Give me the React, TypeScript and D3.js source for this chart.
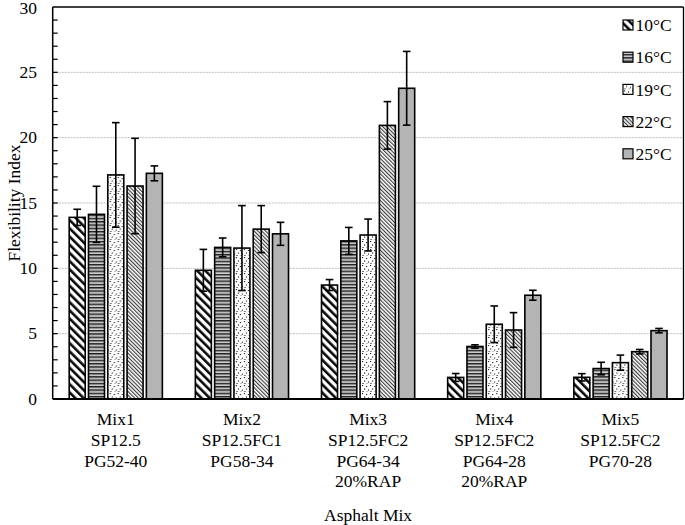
import * as d3 from "d3";
import React from "react";

const mixes = ["Mix1", "Mix2", "Mix3", "Mix4", "Mix5"];
const mixLabels = [
  ["Mix1", "SP12.5", "PG52-40"],
  ["Mix2", "SP12.5FC1", "PG58-34"],
  ["Mix3", "SP12.5FC2", "PG64-34", "20%RAP"],
  ["Mix4", "SP12.5FC2", "PG64-28", "20%RAP"],
  ["Mix5", "SP12.5FC2", "PG70-28"],
];
const temps = ["10°C", "16°C", "19°C", "22°C", "25°C"];

// mean flexibility index per temperature, one value per mix
const fi10 = [13.9, 9.85, 8.72, 1.65, 1.66];
const fi16 = [14.13, 11.6, 12.1, 4.02, 2.33];
const fi19 = [17.15, 11.55, 12.55, 5.72, 2.78];
const fi22 = [16.3, 13.0, 20.94, 5.28, 3.62];
const fi25 = [17.27, 12.64, 23.78, 7.94, 5.23];

// error bar half-lengths
const err10 = [0.62, 1.6, 0.42, 0.3, 0.28];
const err16 = [2.15, 0.72, 1.03, 0.13, 0.48];
const err19 = [4.0, 3.25, 1.22, 1.4, 0.58];
const err22 = [3.65, 1.8, 1.82, 1.33, 0.17];
const err25 = [0.57, 0.88, 2.82, 0.38, 0.17];

const yTicks = [0, 5, 10, 15, 20, 25, 30];

const means = [fi10, fi16, fi19, fi22, fi25];
const errs = [err10, err16, err19, err22, err25];
const fills = ["url(#p10)", "url(#p16)", "url(#p19)", "url(#p22)", "#b4b4b4"];

const FONT = "'Liberation Serif', 'Times New Roman', serif";

export default function App() {
  const ref = React.useRef<SVGSVGElement | null>(null);

  const width = 685;
  const height = 525;
  const plot = { left: 52.7, right: 683.5, top: 7, bottom: 399 };

  const draw = (el: SVGSVGElement) => {
    const svg = d3.select(el).attr("width", width).attr("height", height);
    svg.selectAll("*").remove();

    const defs = svg.append("defs");
    // wide diagonal stripes
    const p10 = defs
      .append("pattern")
      .attr("id", "p10")
      .attr("patternUnits", "userSpaceOnUse")
      .attr("width", 5.8)
      .attr("height", 5.8)
      .attr("patternTransform", "rotate(-45)");
    p10.append("rect").attr("width", 5.8).attr("height", 5.8).attr("fill", "#fff");
    p10.append("line").attr("x1", 1.3).attr("x2", 1.3).attr("y1", 0).attr("y2", 5.8)
      .attr("stroke", "#000").attr("stroke-width", 2.5);
    // horizontal lines
    const p16 = defs
      .append("pattern")
      .attr("id", "p16")
      .attr("patternUnits", "userSpaceOnUse")
      .attr("width", 6)
      .attr("height", 3.3);
    p16.append("rect").attr("width", 6).attr("height", 3.3).attr("fill", "#e6e6e6");
    p16.append("line").attr("x1", 0).attr("x2", 6).attr("y1", 0.7).attr("y2", 0.7)
      .attr("stroke", "#111").attr("stroke-width", 1.3);
    p16.append("line").attr("x1", 0).attr("x2", 6).attr("y1", 2.3).attr("y2", 2.3)
      .attr("stroke", "#888").attr("stroke-width", 0.7);
    // dots
    const p19 = defs
      .append("pattern")
      .attr("id", "p19")
      .attr("patternUnits", "userSpaceOnUse")
      .attr("width", 8)
      .attr("height", 8);
    p19.append("rect").attr("width", 8).attr("height", 8).attr("fill", "#fff");
    [[1, 1], [5, 2], [3, 4.5], [7, 5.5], [1.5, 7], [5.5, 7.5]].forEach(([x, y]) =>
      p19.append("rect").attr("x", x).attr("y", y).attr("width", 1.1).attr("height", 1.1).attr("fill", "#111")
    );
    // thin diagonal lines
    const p22 = defs
      .append("pattern")
      .attr("id", "p22")
      .attr("patternUnits", "userSpaceOnUse")
      .attr("width", 2.7)
      .attr("height", 2.7)
      .attr("patternTransform", "rotate(-45)");
    p22.append("rect").attr("width", 2.7).attr("height", 2.7).attr("fill", "#fff");
    p22.append("line").attr("x1", 0.6).attr("x2", 0.6).attr("y1", 0).attr("y2", 2.7)
      .attr("stroke", "#222").attr("stroke-width", 1);

    const x0 = d3.scaleBand<string>().domain(mixes).range([plot.left, plot.right]).padding(0);
    const x1 = d3
      .scaleBand<string>()
      .domain(temps)
      .range([0, x0.bandwidth()])
      .paddingInner(0.17)
      .paddingOuter(0.855);
    const y = d3.scaleLinear().domain([0, 30]).range([plot.bottom, plot.top]);

    // gridlines
    svg
      .append("g")
      .selectAll("line")
      .data(yTicks.filter((t) => t > 0 && t < 30))
      .join("line")
      .attr("x1", plot.left)
      .attr("x2", plot.right)
      .attr("y1", (d) => y(d))
      .attr("y2", (d) => y(d))
      .attr("stroke", "#bdbdbd")
      .attr("stroke-width", 1)
      .attr("stroke-dasharray", "2 1");

    // minor ticks inside
    svg
      .append("g")
      .selectAll("line")
      .data(d3.range(1, 30))
      .join("line")
      .attr("x1", plot.left)
      .attr("x2", plot.left + 5)
      .attr("y1", (d) => y(d))
      .attr("y2", (d) => y(d))
      .attr("stroke", "#000")
      .attr("stroke-width", 1.2);

    // bars
    const groups = svg
      .append("g")
      .selectAll("g")
      .data(mixes)
      .join("g")
      .attr("transform", (d) => `translate(${x0(d)},0)`);

    groups.each(function (_m, mi) {
      const g = d3.select(this);
      temps.forEach((t, ti) => {
        const v = means[ti][mi];
        const e = errs[ti][mi];
        const bx = x1(t) || 0;
        const bw = x1.bandwidth();
        g.append("rect")
          .attr("x", bx)
          .attr("y", y(v))
          .attr("width", bw)
          .attr("height", y(0) - y(v))
          .attr("fill", fills[ti])
          .attr("stroke", "#000")
          .attr("stroke-width", 1.6);
        const cx = bx + bw / 2;
        g.append("line")
          .attr("x1", cx).attr("x2", cx)
          .attr("y1", y(v - e)).attr("y2", y(v + e))
          .attr("stroke", "#000").attr("stroke-width", 1.6);
        [v - e, v + e].forEach((ev) =>
          g.append("line")
            .attr("x1", cx - 3.8).attr("x2", cx + 3.8)
            .attr("y1", y(ev)).attr("y2", y(ev))
            .attr("stroke", "#000").attr("stroke-width", 1.6)
        );
      });
    });

    // frame
    svg.append("line")
      .attr("x1", plot.left).attr("x2", plot.right)
      .attr("y1", plot.top).attr("y2", plot.top)
      .attr("stroke", "#000").attr("stroke-width", 1.3);
    svg.append("line")
      .attr("x1", plot.right).attr("x2", plot.right)
      .attr("y1", plot.top).attr("y2", plot.bottom)
      .attr("stroke", "#000").attr("stroke-width", 1.3);
    svg.append("line")
      .attr("x1", plot.left).attr("x2", plot.left)
      .attr("y1", plot.top).attr("y2", plot.bottom)
      .attr("stroke", "#000").attr("stroke-width", 1.5);
    svg.append("line")
      .attr("x1", plot.left).attr("x2", plot.right)
      .attr("y1", plot.bottom).attr("y2", plot.bottom)
      .attr("stroke", "#000").attr("stroke-width", 2);

    // y tick labels
    svg
      .append("g")
      .selectAll("text")
      .data(yTicks)
      .join("text")
      .text((d) => d)
      .attr("x", 37)
      .attr("y", (d) => Math.max(y(d), 8))
      .attr("dy", "0.33em")
      .attr("text-anchor", "end")
      .attr("font-family", FONT)
      .attr("font-size", 17.5)
      .attr("fill", "#000");

    // category labels
    const cat = svg
      .append("g")
      .selectAll("text")
      .data(mixes)
      .join("text")
      .attr("x", (d) => (x0(d) || 0) + x0.bandwidth() / 2)
      .attr("y", 425)
      .attr("text-anchor", "middle")
      .attr("font-family", FONT)
      .attr("font-size", 17.5)
      .attr("fill", "#000");
    cat.each(function (_d, i) {
      const tx = d3.select(this);
      mixLabels[i].forEach((line, li) =>
        tx.append("tspan")
          .attr("x", tx.attr("x"))
          .attr("dy", li === 0 ? 0 : 20.8)
          .text(line)
      );
    });

    // axis titles
    svg.append("text")
      .text("Asphalt Mix")
      .attr("x", (plot.left + plot.right) / 2)
      .attr("y", 520.5)
      .attr("text-anchor", "middle")
      .attr("font-family", FONT)
      .attr("font-size", 17.5)
      .attr("fill", "#000");
    svg.append("text")
      .text("Flexibility Index")
      .attr("transform", `translate(20, ${(plot.top + plot.bottom) / 2}) rotate(-90)`)
      .attr("text-anchor", "middle")
      .attr("font-family", FONT)
      .attr("font-size", 17.5)
      .attr("fill", "#000");

    // legend
    const leg = svg
      .append("g")
      .selectAll("g")
      .data(temps)
      .join("g")
      .attr("transform", (_d, i) => `translate(623, ${25 + i * 32.2})`);
    leg.append("rect")
      .attr("x", 0).attr("y", -5)
      .attr("width", 10).attr("height", 10)
      .attr("fill", (_d, i) => fills[i])
      .attr("stroke", "#000").attr("stroke-width", 1.2);
    leg.append("text")
      .text((d) => d)
      .attr("x", 12.5)
      .attr("dy", "0.35em")
      .attr("font-family", FONT)
      .attr("font-size", 17.5)
      .attr("fill", "#000");
  };

  React.useEffect(() => {
    if (ref.current) draw(ref.current);
  });

  return (
    <div style={{ position: "absolute", left: 0, top: 0, background: "#fff" }}>
      <svg ref={ref} width={width} height={height} style={{ display: "block" }}></svg>
    </div>
  );
}
